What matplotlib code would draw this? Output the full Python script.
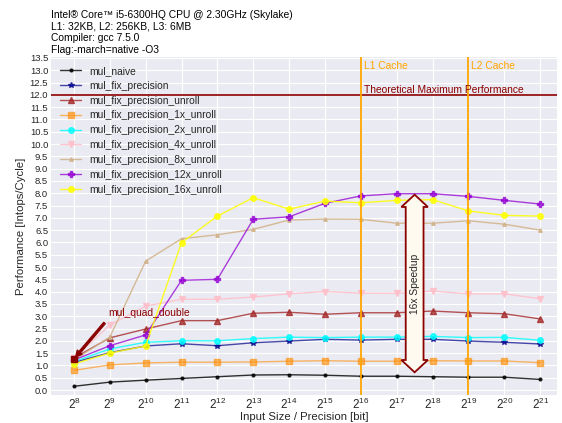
import numpy as np
import matplotlib
matplotlib.use("Agg")
import matplotlib.pyplot as plt
import matplotlib.patches as mpatches
import matplotlib.transforms as mtransforms

# input sizes, as powers of two
sizes = [2 ** e for e in range(8, 22)]

naive = [0.15, 0.32, 0.40, 0.47, 0.54, 0.61, 0.62, 0.60, 0.56, 0.56, 0.54, 0.52, 0.52, 0.43]
fix_precision = [1.12, 1.52, 1.79, 1.88, 1.80, 1.92, 1.99, 2.06, 2.03, 2.06, 2.06, 1.99, 1.94, 1.87]
fix_unroll = [1.30, 2.12, 2.48, 2.82, 2.82, 3.12, 3.16, 3.08, 3.14, 3.14, 3.21, 3.14, 3.10, 2.89]
fix_1x = [0.80, 1.02, 1.10, 1.13, 1.13, 1.14, 1.17, 1.19, 1.17, 1.17, 1.19, 1.18, 1.18, 1.11]
fix_2x = [1.15, 1.67, 1.94, 2.00, 2.00, 2.09, 2.15, 2.13, 2.15, 2.15, 2.18, 2.13, 2.14, 2.02]
fix_4x = [1.30, 2.64, 3.41, 3.69, 3.69, 3.78, 3.91, 4.00, 3.94, 3.93, 4.02, 3.91, 3.91, 3.71]
fix_8x = [1.22, 2.15, 5.24, 6.15, 6.31, 6.53, 6.91, 6.95, 6.94, 6.78, 6.78, 6.88, 6.74, 6.50]
fix_12x = [1.22, 1.80, 2.24, 4.46, 4.50, 6.94, 7.04, 7.59, 7.89, 7.98, 7.98, 7.87, 7.71, 7.56]
fix_16x = [1.06, 1.50, 1.79, 5.99, 7.07, 7.82, 7.35, 7.68, 7.61, 7.71, 7.74, 7.28, 7.10, 7.07]

quad_double = (2 ** 8, 1.26)
peak_perf = 12.0
l1_cache = 2 ** 16
l2_cache = 2 ** 19
speedup_at = 2 ** 17.5
speedup_span = (0.72, 7.94)

series = [
    ("mul_naive", naive, "black", ".", 4, 0.8),
    ("mul_fix_precision", fix_precision, "darkblue", "*", 4, 0.7),
    ("mul_fix_precision_unroll", fix_unroll, "brown", "^", 4, 0.8),
    ("mul_fix_precision_1x_unroll", fix_1x, "darkorange", "s", 4, 0.6),
    ("mul_fix_precision_2x_unroll", fix_2x, "cyan", "o", 4, 0.8),
    ("mul_fix_precision_4x_unroll", fix_4x, "pink", "v", 4, 0.9),
    ("mul_fix_precision_8x_unroll", fix_8x, "tan", "^", 2.5, 0.9),
    ("mul_fix_precision_12x_unroll", fix_12x, "darkviolet", "P", 4, 0.75),
    ("mul_fix_precision_16x_unroll", fix_16x, "yellow", "o", 4, 0.85),
]

plt.style.use("seaborn-v0_8-darkgrid")
plt.rcParams["font.family"] = ["Liberation Sans", "DejaVu Sans"]
plt.rcParams["mathtext.fontset"] = "custom"
plt.rcParams["mathtext.rm"] = "Liberation Sans"
plt.rcParams["mathtext.it"] = "Liberation Sans:italic"
plt.rcParams["mathtext.default"] = "regular"
text_color = "#262626"

fig = plt.figure(figsize=(5.62, 4.23), dpi=100)
ax = fig.add_axes([0.0907, 0.0655, 0.9004, 0.8005])

for label, vals, color, marker, ms, alpha in series:
    ax.plot(sizes, vals, color=color, marker=marker, markersize=ms,
            linewidth=1.0, alpha=alpha, label=label)

ax.plot(*quad_double, "s", color="darkred", markersize=4.5)

ax.set_xscale("log", base=2)
ax.set_xlim(2 ** 7.36, 2 ** 21.47)
ax.set_ylim(-0.215, 13.55)
ax.set_xticks(sizes)
ax.set_yticks(np.arange(0, 13.51, 0.5))
ax.yaxis.set_major_formatter(matplotlib.ticker.FormatStrFormatter("%.1f"))
ax.minorticks_off()
ax.tick_params(axis="x", labelsize=8.4, pad=1, colors=text_color)
ax.tick_params(axis="y", labelsize=6.8, pad=2, colors=text_color)

ax.axhline(peak_perf, color="darkred", linewidth=1.2)
ax.annotate("Theoretical Maximum Performance", xy=(l1_cache, peak_perf),
            xytext=(2, 0), textcoords="offset points", ha="left", va="bottom",
            fontsize=7.4, color="darkred")

for pos, name in [(l1_cache, "L1 Cache"), (l2_cache, "L2 Cache")]:
    ax.axvline(pos, color="orange", linewidth=1.3)
    ax.annotate(name, xy=(pos, 13.17), xytext=(2, 0), textcoords="offset points",
                ha="left", va="center", fontsize=7.4, color="orange")

ax.annotate("mul_quad_double", xy=quad_double, xytext=(500, 3.0),
            fontsize=7.4, color="darkred",
            arrowprops=dict(facecolor="darkred", edgecolor="darkred",
                            width=1.4, headwidth=4.5, headlength=4.5, shrink=0.05))

# fat double-headed arrow: x in axes fraction, y in data
trans = mtransforms.blended_transform_factory(ax.transAxes, ax.transData)
cx = ax.transAxes.inverted().transform(ax.transData.transform((speedup_at, 0)))[0]
lo, hi = speedup_span
hw, hh, hl = 0.0176, 0.0262, 0.5
verts = [
    (cx - hw, lo + hl), (cx - hh, lo + hl), (cx, lo), (cx + hh, lo + hl), (cx + hw, lo + hl),
    (cx + hw, hi - hl), (cx + hh, hi - hl), (cx, hi), (cx - hh, hi - hl), (cx - hw, hi - hl),
]
ax.add_patch(mpatches.Polygon(verts, closed=True, transform=trans,
                              facecolor="floralwhite", edgecolor="darkred",
                              linewidth=1.3, zorder=5))
ax.text(speedup_at, (lo + hi) / 2, "16x Speedup", rotation=90, ha="center",
        va="center", fontsize=7.4, color=text_color, zorder=6)

ax.legend(loc="upper left", fontsize=7.4, frameon=False, numpoints=1,
          labelspacing=0.47)

ax.set_xlabel("Input Size / Precision [bit]", fontsize=8.2, color=text_color, labelpad=0)
ax.set_ylabel("Performance [Intops/Cycle]", fontsize=8.2, color=text_color, labelpad=3)
ax.set_title("Intel\u00ae Core\u2122 i5-6300HQ CPU @ 2.30GHz (Skylake)\n"
             "L1: 32KB, L2: 256KB, L3: 6MB\n"
             "Compiler: gcc 7.5.0\n"
             "Flag:-march=native -O3",
             loc="left", fontsize=7.4, pad=3, color="black")

fig.savefig("out.png", dpi=100)
